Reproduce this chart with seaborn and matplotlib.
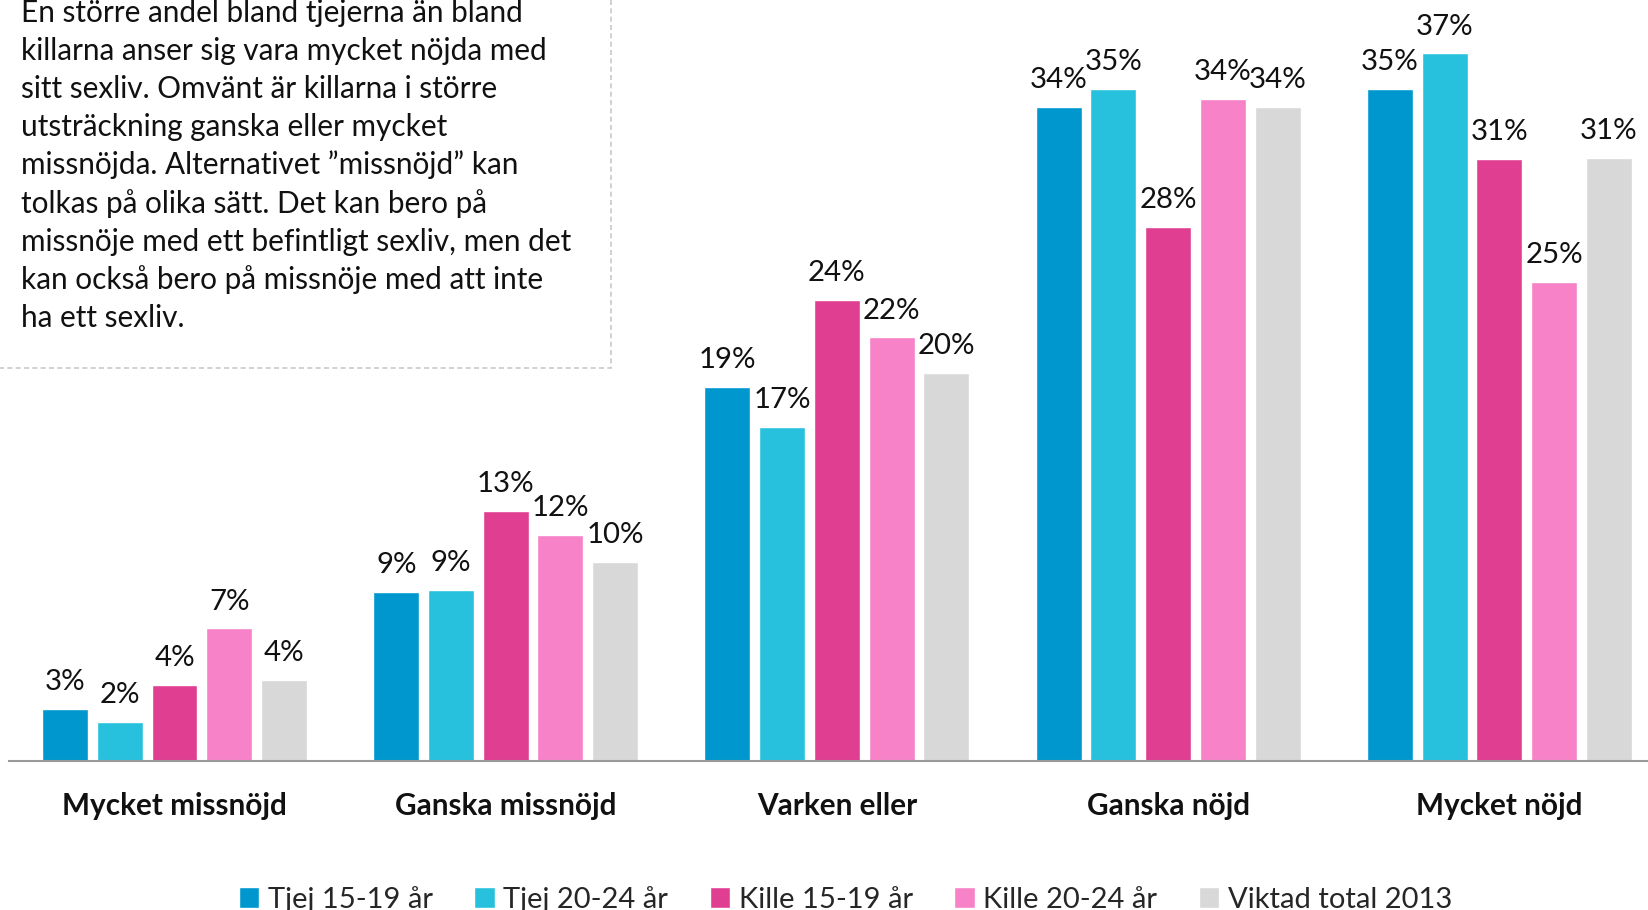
import pandas as pd
import matplotlib
matplotlib.use("Agg")
import matplotlib.pyplot as plt
from matplotlib.patches import Rectangle
import seaborn as sns

# Data (percent)
categories = ["Mycket missnöjd", "Ganska missnöjd", "Varken eller", "Ganska nöjd", "Mycket nöjd"]
groups = ["Tjej 15-19 år", "Tjej 20-24 år", "Kille 15-19 år", "Kille 20-24 år", "Viktad total 2013"]
tjej_15_19 = [2.72, 8.77, 19.40, 33.90, 34.82]
tjej_20_24 = [2.02, 8.88, 17.33, 34.82, 36.68]
kille_15_19 = [3.92, 12.97, 23.92, 27.68, 31.23]
kille_20_24 = [6.87, 11.72, 21.96, 34.33, 24.85]
viktad_total = [4.20, 10.30, 20.11, 33.90, 31.28]
colors = ["#0097CE", "#27C1DE", "#E03E91", "#F782C8", "#D8D8D8"]

note_lines = [
    "En större andel bland tjejerna än bland",
    "killarna anser sig vara mycket nöjda med",
    "sitt sexliv. Omvänt är killarna i större",
    "utsträckning ganska eller mycket",
    "missnöjda. Alternativet ”missnöjd” kan",
    "tolkas på olika sätt. Det kan bero på",
    "missnöje med ett befintligt sexliv, men det",
    "kan också bero på missnöje med att inte",
    "ha ett sexliv.",
]

series = [tjej_15_19, tjej_20_24, kille_15_19, kille_20_24, viktad_total]
rows = []
for g, vals in zip(groups, series):
    for c, v in zip(categories, vals):
        rows.append({"Kategori": c, "Grupp": g, "Andel": v})
df = pd.DataFrame(rows)

sns.set_style("white")
plt.rcParams["font.family"] = ["Lato", "DejaVu Sans"]

W, H = 1648, 910
fig = plt.figure(figsize=(W / 100, H / 100), dpi=100)
ax = fig.add_axes([8.9 / W, 149 / H, 1656 / W, 761 / H])

sns.barplot(data=df, x="Kategori", y="Andel", hue="Grupp", order=categories,
            hue_order=groups, palette=colors, width=0.826, gap=0.16,
            errorbar=None, saturation=1, ax=ax)

ax.set_xlim(-0.5, 4.5)
ax.set_ylim(0, 761 / 19.29)

for cont in ax.containers:
    ax.bar_label(cont, labels=[f"{v:.0f}%" for v in cont.datavalues],
                 padding=10, fontsize=21.2, color="#111111")

ax.set_xlabel("")
ax.set_ylabel("")
ax.set_yticks([])
ax.tick_params(axis="x", length=0, pad=22)
for lbl in ax.get_xticklabels():
    lbl.set_fontsize(21.4)
    lbl.set_fontweight("bold")
    lbl.set_color("#111111")
for side in ["top", "right", "left"]:
    ax.spines[side].set_visible(False)
ax.spines["bottom"].set_color("#9A9A9A")
ax.spines["bottom"].set_linewidth(1.5)

handles, labels = ax.get_legend_handles_labels()
ax.get_legend().remove()
fig.legend(handles, labels, loc="center", bbox_to_anchor=(0.513, 0.012), ncol=5,
           frameon=False, fontsize=21, handlelength=0.7, handleheight=0.7,
           handletextpad=0.3, columnspacing=1.42)

# note box
fig.patches.append(Rectangle((-0.01, 1 - 368 / H), 0.01 + 611 / W, 368 / H + 0.05,
                             transform=fig.transFigure, fill=False, edgecolor="#C8C8C8",
                             linestyle=(0, (3, 2)), linewidth=1.2))
for i, line in enumerate(note_lines):
    fig.text(21 / W, 1 - (22 + i * 38.1) / H, line, fontsize=21.4, va="baseline",
             ha="left", color="#111111")

plt.savefig("out.png", dpi=100)
